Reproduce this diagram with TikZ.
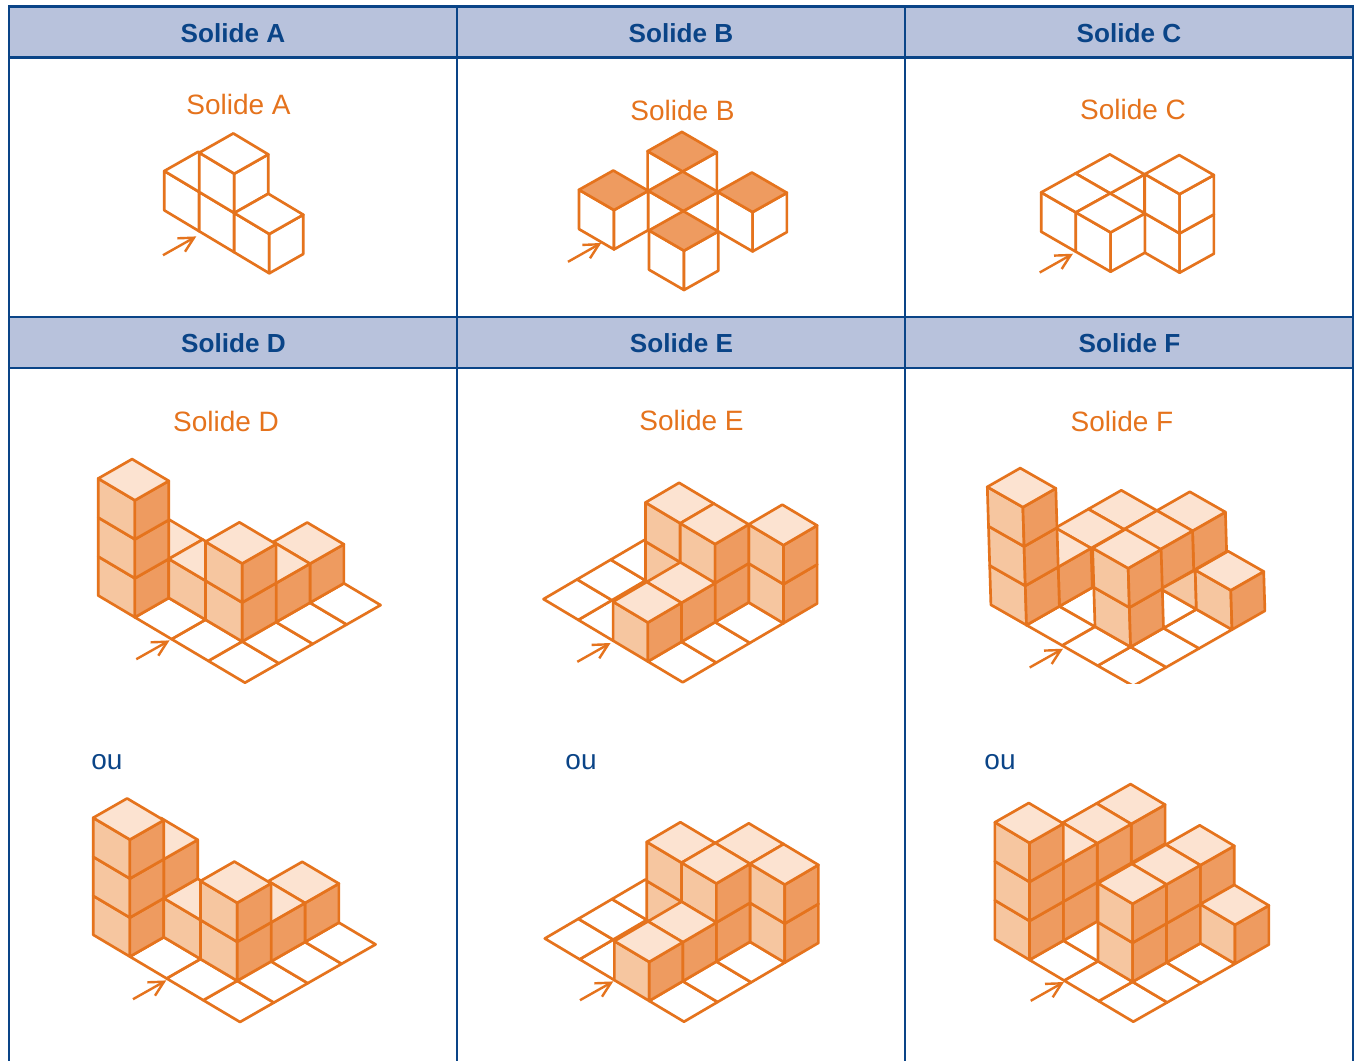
\documentclass[tikz,border=0pt]{standalone}
\usepackage{fontspec}
\setmainfont{Liberation Sans}
\definecolor{lineorange}{HTML}{E5731D}
\definecolor{facetop}{HTML}{FCE3D1}
\definecolor{faceleft}{HTML}{F6C6A0}
\definecolor{faceright}{HTML}{EE9B60}
\definecolor{tableblue}{HTML}{0A4487}
\definecolor{headfill}{HTML}{B8C2DC}
\tikzset{
  iso/.style n args={8}{shift={(#1,#2)},
    x={({(#3)*0.75pt},{-(#4)*0.75pt})},
    y={({(#5)*0.75pt},{-(#6)*0.75pt})},
    z={({(#7)*0.75pt},{(#8)*0.75pt})}},
  cubeface/.style={draw=lineorange,line width=2pt,line join=round},
  lft/.style={cubeface,fill=faceleft},
  rgt/.style={cubeface,fill=faceright},
  tp/.style={cubeface,fill=facetop},
  floorcell/.style={cubeface,fill=white},
  blankcubes/.style={lft/.style={cubeface,fill=white},rgt/.style={cubeface,fill=white},tp/.style={cubeface,fill=white}},
  darktops/.style={lft/.style={cubeface,fill=white},rgt/.style={cubeface,fill=white},tp/.style={cubeface,fill=faceright}},
  rule/.style={draw=tableblue,line width=2pt},
  headlabel/.style={text=tableblue,font=\fontsize{19.6}{22}\selectfont\bfseries},
  caption/.style={text=lineorange,font=\fontsize{21}{24}\selectfont},
  orlabel/.style={text=tableblue,font=\fontsize{21}{24}\selectfont},
  markline/.style={draw=lineorange,line width=1.8pt,line cap=butt,line join=miter},
}
\newcommand\Cube[3]{%
  \foreach \k in {1,...,#3}{%
    \path[lft] ({#1},{#2},{\k-1}) -- ({#1},{#2+1},{\k-1}) -- ({#1},{#2+1},{\k}) -- ({#1},{#2},{\k}) -- cycle;
    \path[rgt] ({#1},{#2},{\k-1}) -- ({#1+1},{#2},{\k-1}) -- ({#1+1},{#2},{\k}) -- ({#1},{#2},{\k}) -- cycle;
  }%
  \path[tp] ({#1},{#2},#3) -- ({#1+1},{#2},#3) -- ({#1+1},{#2+1},#3) -- ({#1},{#2+1},#3) -- cycle;
}
\newcommand\FloorCells[1]{%
  \foreach \p/\q in {#1}{%
    \path[floorcell] ({\p},{\q},0) -- ({\p+1},{\q},0) -- ({\p+1},{\q+1},0) -- ({\p},{\q+1},0) -- cycle;
  }%
}
\newcommand\ViewArrow[2]{%
  \begin{scope}[shift={(#1,#2)}]
    \draw[markline] (-31,17.5) -- (0,0);
    \draw[markline] (-16.7,0.6) -- (0,0) -- (-9,14);
  \end{scope}%
}
\begin{document}
\begin{tikzpicture}[x=0.75pt,y=-0.75pt]
\useasboundingbox (0,0) rectangle (1354,1061);
\fill[white] (0,0) rectangle (1354,1061);
% table
\fill[headfill] (9.3,6.5) rectangle (1353,57.7);
\fill[headfill] (9.3,317) rectangle (1353,368);
\foreach \c in {9.3,457.3,905.3,1352.8}{\draw[rule,line width=1.75pt] (\c,5.5) -- (\c,1061);}
\foreach \r in {6.5,57.7,317,368}{\draw[rule] (8,\r) -- (1354,\r);}
% headers
\node[headlabel] (hA) at (233,33) {Solide A};
\node[headlabel] (hB) at (681,33) {Solide B};
\node[headlabel] (hC) at (1129,33) {Solide C};
\node[headlabel] (hD) at (233.5,343) {Solide D};
\node[headlabel] (hE) at (681.5,343) {Solide E};
\node[headlabel] (hF) at (1129.5,343) {Solide F};
% captions
\node[caption] (cA) at (238.5,104) {Solide A};
\node[caption] (cB) at (682.5,110) {Solide B};
\node[caption] (cC) at (1133,109) {Solide C};
\node[caption] (cD) at (226,421) {Solide D};
\node[caption] (cE) at (691.5,420) {Solide E};
\node[caption] (cF) at (1122,421) {Solide F};
\node[orlabel] (oD) at (107,762) {ou};
\node[orlabel] (oE) at (581,762) {ou};
\node[orlabel] (oF) at (1000,762) {ou};
% Solide A
\begin{scope}[iso={269.3}{273.3}{34}{-19.3}{-35}{-21}{0}{39.3},blankcubes]
  \Cube{0}{2}{1}\Cube{0}{1}{2}\Cube{0}{0}{1}
\end{scope}
\ViewArrow{194}{237.7}
% Solide B
\begin{scope}[iso={684}{290}{34.3}{-19.3}{-35}{-20.3}{0}{39.3},darktops]
  \Cube{2}{2}{1}\Cube{0}{2}{1}\Cube{2}{0}{1}\Cube{1}{1}{1}\Cube{0}{0}{1}
\end{scope}
\ViewArrow{599}{244.3}
% Solide C
\begin{scope}[iso={1145.3}{291.7}{34.3}{-19}{-34.7}{-20}{0}{39.3},blankcubes]
  \Cube{1}{2}{1}\Cube{0}{2}{1}\Cube{1}{0}{2}\Cube{0}{1}{1}
\end{scope}
\ViewArrow{1070.7}{255}
% Solide D, first view
\begin{scope}[iso={245}{682.7}{33.9}{-19.4}{-36.7}{-21.8}{0}{39}]
  \FloorCells{0/0,1/0,2/0,3/0,0/1,0/2}
  \Cube{1}{3}{1}\Cube{0}{3}{3}\Cube{1}{2}{1}\Cube{3}{1}{1}\Cube{2}{1}{1}\Cube{1}{1}{2}
\end{scope}
\ViewArrow{167.3}{641.7}
% Solide D, second view
\begin{scope}[iso={240}{1022}{33.9}{-19.4}{-36.7}{-21.8}{0}{39}]
  \FloorCells{0/0,1/0,2/0,3/0,0/1,0/2}
  \Cube{1}{3}{2}\Cube{0}{3}{3}\Cube{1}{2}{1}\Cube{3}{1}{1}\Cube{2}{1}{1}\Cube{1}{1}{2}
\end{scope}
\ViewArrow{164}{981.7}
% Solide E, first view
\begin{scope}[iso={682.7}{682.3}{33.6}{-19.7}{-34.8}{-20.8}{0}{39}]
  \FloorCells{0/0,1/0,2/0,0/2,0/3,1/3,2/3}
  \Cube{2}{2}{2}\Cube{3}{0}{2}\Cube{2}{1}{2}\Cube{1}{1}{1}\Cube{0}{1}{1}
\end{scope}
\ViewArrow{608.3}{644.3}
% Solide E, second view
\begin{scope}[iso={684}{1021.7}{33.6}{-19.7}{-34.8}{-20.8}{0}{39}]
  \FloorCells{0/0,1/0,2/0,0/2,0/3,1/3,2/3}
  \Cube{3}{1}{2}\Cube{2}{2}{2}\Cube{3}{0}{2}\Cube{2}{1}{2}\Cube{1}{1}{1}\Cube{0}{1}{1}
\end{scope}
\ViewArrow{611}{982.7}
% Solide F, first view
\begin{scope}
  \clip (900,400) rectangle (1354,683);
  \begin{scope}[iso={1133.3}{686}{32.9}{-18.8}{-35.6}{-20.3}{-1.2}{39.3}]
    \FloorCells{0/0,1/0,2/0,0/1,0/2,1/2,2/1}
    \Cube{3}{3}{1}\Cube{4}{2}{1}\Cube{2}{3}{1}\Cube{3}{2}{1}\Cube{1}{3}{1}\Cube{0}{3}{3}
    \path[lft] (3,1,0) -- (3,2,0) -- (3,1,1) -- cycle;
    \Cube{3}{0}{1}\Cube{1}{1}{2}
  \end{scope}
\end{scope}
\ViewArrow{1060.7}{650}
% Solide F, second view
\begin{scope}[iso={1133.3}{1021.7}{33.9}{-19.3}{-34.6}{-20.6}{0}{39}]
  \FloorCells{0/0,1/0,2/0,0/1,0/2,1/2}
  \Cube{3}{3}{2}\Cube{2}{3}{2}\Cube{3}{1}{2}\Cube{1}{3}{2}\Cube{2}{1}{2}\Cube{0}{3}{3}\Cube{3}{0}{1}\Cube{1}{1}{2}
\end{scope}
\ViewArrow{1061.7}{983.3}
\end{tikzpicture}
\end{document}
